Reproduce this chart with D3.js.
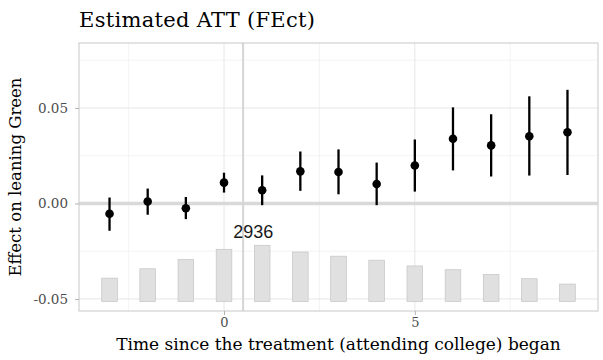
<!DOCTYPE html>
<html>
<head>
<meta charset="utf-8">
<script src="https://cdn.jsdelivr.net/npm/d3@7"></script>
<style>
  body { margin: 0; background: #fff; }
  .tick-label { font-family: "DejaVu Serif", serif; font-size: 13.5px; fill: #4d4d4d; }
</style>
</head>
<body>
<div class="chart"></div>
<script>
// Estimated ATT (FEct) event-study plot
var times = [-3, -2, -1, 0, 1, 2, 3, 4, 5, 6, 7, 8, 9];
var att = [-0.0054, 0.0010, -0.0025, 0.0109, 0.0069, 0.0168, 0.0165, 0.0102, 0.0199, 0.0339, 0.0304, 0.0352, 0.0373];
var ciLow = [-0.0143, -0.0059, -0.0082, 0.0057, -0.0009, 0.0066, 0.0048, -0.0009, 0.0062, 0.0173, 0.0141, 0.0146, 0.0149];
var ciHigh = [0.0031, 0.0078, 0.0034, 0.0161, 0.0147, 0.0272, 0.0283, 0.0214, 0.0335, 0.0503, 0.0467, 0.0561, 0.0595];
var counts = [1218, 1708, 2187, 2726, 2936, 2586, 2367, 2157, 1857, 1658, 1408, 1188, 909];

var xTicks = [0, 5];
var xMinor = [-2.5, 2.5, 7.5];
var yTicks = [-0.05, 0, 0.05];
var yMinor = [-0.025, 0.025, 0.075];

var svgWidth = 603;
var svgHeight = 360;
var margin = { top: 43, right: 5, bottom: 49, left: 79 };

var svg = d3.select(".chart")
  .append("svg")
  .attr("width", svgWidth)
  .attr("height", svgHeight);

var x = d3.scaleLinear()
  .domain([-3.8, 9.8])
  .range([margin.left, svgWidth - margin.right]);

var y = d3.scaleLinear()
  .domain([-0.0563, 0.084])
  .range([svgHeight - margin.bottom, margin.top]);

// count bars sit at the bottom of the panel
var barBase = -0.0513;
var barTop = -0.0219;
var countScale = d3.scaleLinear()
  .domain([0, d3.max(counts)])
  .range([y(barBase), y(barTop)]);

var x0 = x.range()[0], x1 = x.range()[1];
var y0 = y.range()[0], y1 = y.range()[1];

// grid
svg.append("g").selectAll("line")
  .data(yMinor)
  .enter().append("line")
  .attr("x1", x0).attr("x2", x1)
  .attr("y1", d => y(d)).attr("y2", d => y(d))
  .attr("stroke", "#f0f0f0").attr("stroke-width", 0.8);

svg.append("g").selectAll("line")
  .data(xMinor)
  .enter().append("line")
  .attr("x1", d => x(d)).attr("x2", d => x(d))
  .attr("y1", y0).attr("y2", y1)
  .attr("stroke", "#f0f0f0").attr("stroke-width", 0.8);

svg.append("g").selectAll("line")
  .data(yTicks)
  .enter().append("line")
  .attr("x1", x0).attr("x2", x1)
  .attr("y1", d => y(d)).attr("y2", d => y(d))
  .attr("stroke", "#e6e6e6").attr("stroke-width", 1);

svg.append("g").selectAll("line")
  .data(xTicks)
  .enter().append("line")
  .attr("x1", d => x(d)).attr("x2", d => x(d))
  .attr("y1", y0).attr("y2", y1)
  .attr("stroke", "#e6e6e6").attr("stroke-width", 1);

// reference lines
svg.append("line")
  .attr("x1", x0).attr("x2", x1)
  .attr("y1", y(0)).attr("y2", y(0))
  .attr("stroke", "#d9d9d9").attr("stroke-width", 3.5);

svg.append("line")
  .attr("x1", x(0.5)).attr("x2", x(0.5))
  .attr("y1", y0).attr("y2", y1)
  .attr("stroke", "#d6d6d6").attr("stroke-width", 2);

// count bars
var barW = x(0.41) - x(0);
svg.append("g").selectAll("rect")
  .data(times)
  .enter().append("rect")
  .attr("x", d => x(d) - barW / 2)
  .attr("y", (d, i) => countScale(counts[i]))
  .attr("width", barW)
  .attr("height", (d, i) => countScale(0) - countScale(counts[i]))
  .attr("fill", "#e0e0e0")
  .attr("stroke", "#c4c4c4")
  .attr("stroke-width", 0.7);

var maxIdx = d3.maxIndex(counts);
svg.append("text")
  .attr("x", x(times[maxIdx]) - 9)
  .attr("y", countScale(counts[maxIdx]) - 7)
  .attr("text-anchor", "middle")
  .attr("font-family", "Liberation Sans, Arial, sans-serif")
  .attr("font-size", 18)
  .attr("fill", "#1a1a1a")
  .text(counts[maxIdx]);

// error bars and points
svg.append("g").selectAll("line")
  .data(times)
  .enter().append("line")
  .attr("x1", d => x(d)).attr("x2", d => x(d))
  .attr("y1", (d, i) => y(ciLow[i]))
  .attr("y2", (d, i) => y(ciHigh[i]))
  .attr("stroke", "#000").attr("stroke-width", 2.3);

svg.append("g").selectAll("circle")
  .data(times)
  .enter().append("circle")
  .attr("cx", d => x(d))
  .attr("cy", (d, i) => y(att[i]))
  .attr("r", 4.3)
  .attr("fill", "#000");

// panel border
svg.append("rect")
  .attr("x", x0).attr("y", y1)
  .attr("width", x1 - x0).attr("height", y0 - y1)
  .attr("fill", "none")
  .attr("stroke", "#c8c8c8").attr("stroke-width", 1);

// axes
var bottomAxis = d3.axisBottom(x).tickValues(xTicks).tickSize(4).tickPadding(3).tickFormat(d3.format("d"));
var leftAxis = d3.axisLeft(y).tickValues(yTicks).tickSize(4).tickPadding(7)
  .tickFormat(d => d3.format(".2f")(d).replace("\u2212", "-"));

var gx = svg.append("g")
  .attr("transform", `translate(0, ${y0})`)
  .call(bottomAxis);
var gy = svg.append("g")
  .attr("transform", `translate(${x0}, 0)`)
  .call(leftAxis);

[gx, gy].forEach(function (g) {
  g.select(".domain").remove();
  g.selectAll(".tick line").attr("stroke", "#b3b3b3");
  g.selectAll(".tick text").attr("class", "tick-label").attr("fill", null);
});
gx.selectAll(".tick text").style("font-size", "13px");

// titles
svg.append("text")
  .attr("x", x0)
  .attr("y", 27)
  .attr("font-family", "DejaVu Serif, serif")
  .attr("font-size", 21)
  .attr("textLength", 236)
  .attr("fill", "#000")
  .text("Estimated ATT (FEct)");

svg.append("text")
  .attr("transform", `translate(${21}, ${(y0 + y1) / 2}) rotate(-90)`)
  .attr("text-anchor", "middle")
  .attr("font-family", "DejaVu Serif, serif")
  .attr("font-size", 16.5)
  .attr("fill", "#000")
  .text("Effect on leaning Green");

svg.append("text")
  .attr("x", (x0 + x1) / 2)
  .attr("y", 350)
  .attr("text-anchor", "middle")
  .attr("font-family", "DejaVu Serif, serif")
  .attr("font-size", 17)
  .attr("fill", "#000")
  .text("Time since the treatment (attending college) began");
</script>
</body>
</html>
